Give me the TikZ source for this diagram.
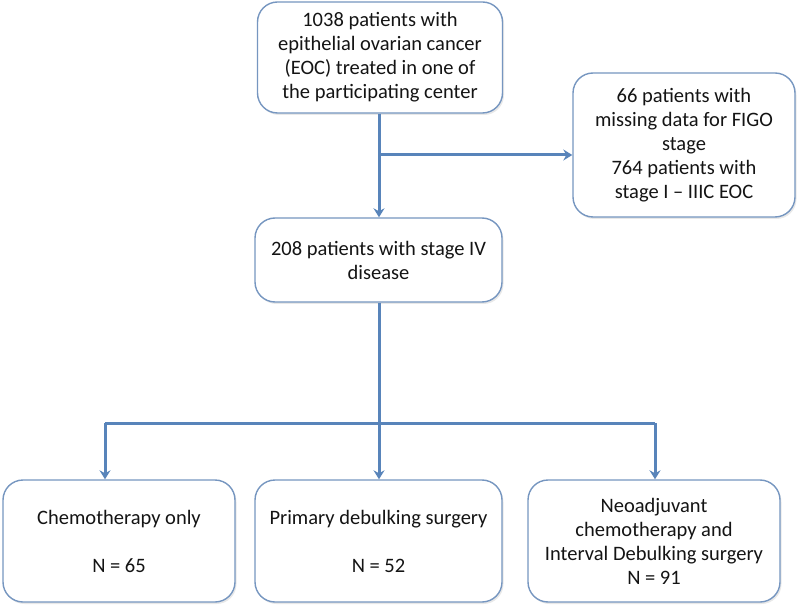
\documentclass[tikz,border=0pt]{standalone}
\usepackage{fontspec}
\setmainfont{Carlito}
\usetikzlibrary{arrows.meta,shadows}
\definecolor{boxline}{RGB}{118,150,192}
\definecolor{arrline}{RGB}{88,132,186}
\definecolor{txt}{RGB}{20,20,20}
\tikzset{
  flowbox/.style={draw=boxline, line width=1.4pt, rounded corners=20pt, fill=white,
    align=center, text=txt, font=\fontsize{20.5}{24}\selectfont, inner sep=0pt,
    drop shadow={opacity=0.18, shadow xshift=1.5pt, shadow yshift=-2pt}},
  conn/.style={draw=arrline, line width=3pt},
  arr/.style={conn, -{Stealth[length=9pt,width=11pt,inset=3pt]}}
}
\begin{document}
\begin{tikzpicture}[x=1pt,y=-1pt]
\useasboundingbox (0,0) rectangle (797,609);
\node[flowbox, minimum width=245pt, minimum height=111pt] (top) at (380,57.5)
  {1038 patients with\\epithelial ovarian cancer\\(EOC) treated in one of\\the participating center};
\node[flowbox, minimum width=222pt, minimum height=144pt] (excl) at (684,145)
  {66 patients with\\missing data for FIGO\\stage\\764 patients with\\stage I -- IIIC EOC};
\node[flowbox, minimum width=247pt, minimum height=84pt] (mid) at (378.5,260)
  {208 patients with stage IV\\disease};
\node[flowbox, minimum width=232pt, minimum height=122pt] (c1) at (119,541)
  {Chemotherapy only\\[24pt]N = 65};
\node[flowbox, minimum width=247pt, minimum height=122pt] (c2) at (378.5,541)
  {Primary debulking surgery\\[24pt]N = 52};
\node[flowbox, minimum width=252pt, minimum height=122pt] (c3) at (654,541)
  {Neoadjuvant\\chemotherapy and\\Interval Debulking surgery\\N = 91};
\coordinate (b1) at (379,155);
\coordinate (b2) at (379,423);
\coordinate (jL) at (105,423);
\coordinate (jR) at (655,423);
\draw[arr] (top.south -| b1) -- (mid.north -| b1);
\draw[arr] (b1) -- (b1 -| excl.west);
\draw[conn] (mid.south -| b2) -- (b2);
\draw[conn] (jL) -- (jR);
\draw[arr] (jL) -- (jL |- c1.north);
\draw[arr] (b2) -- (b2 |- c2.north);
\draw[arr] (jR) -- (jR |- c3.north);
\end{tikzpicture}
\end{document}
